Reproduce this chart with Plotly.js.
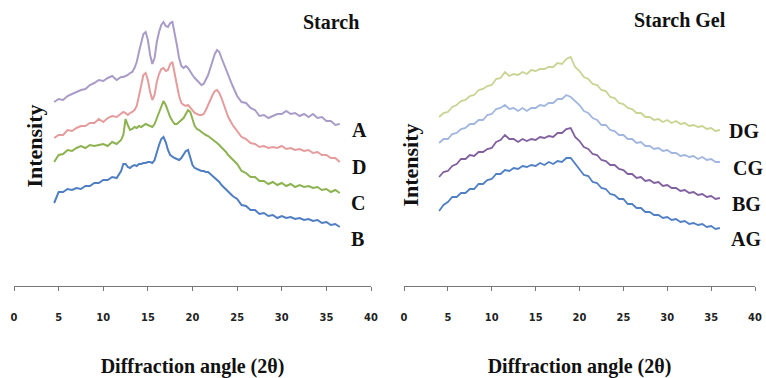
<!DOCTYPE html>
<html><head><meta charset="utf-8">
<script src="https://cdn.plot.ly/plotly-3.0.1.min.js"></script>
<style>html,body{margin:0;padding:0;background:#fff}#chart{width:766px;height:378px}</style>
</head><body><div id="chart"></div>
<script>
// ---- data (2θ in degrees, intensity in arbitrary units) ----
const angleStarch = [4.5,5,5.5,6,6.5,7,7.5,8,8.5,9,9.5,10,10.5,11,11.5,12,
12.25,12.5,12.75,13,13.25,13.5,13.75,14,14.25,14.5,14.75,15,15.25,15.5,15.75,16,16.25,16.5,16.75,17,17.25,17.5,17.75,18,18.25,18.5,18.75,19,19.25,19.5,19.75,20,20.25,20.5,20.75,21,21.25,21.5,21.75,22,22.25,22.5,22.75,23,23.25,23.5,23.75,24,
24.5,25,25.5,26,26.5,27,27.5,28,28.5,29,29.5,30,30.5,31,31.5,32,32.5,33,33.5,34,34.5,35,35.5,36,36.5];
const starchA = [184,187,186,190,192,194,196,197,201,203,206,205,208,210,206,209,
209,210,211,213,214,218,224,234,244,252,254,246,231,222,228,244,254,261,264,260,259,263,264,254,241,228,220,218,220,218,214,211,208,206,203,201,202,206,211,218,226,232,236,234,228,222,217,212,
200,190,184,183,178,176,170,171,168,170,172,172,175,172,173,170,172,169,172,168,169,165,165,161,162];
const starchD = [148,151,151,156,155,158,160,160,163,163,167,164,168,170,169,172,
174,173,171,173,174,176,180,190,201,211,213,206,194,186,191,204,212,217,218,215,216,222,224,214,201,190,183,181,180,181,178,176,173,172,171,171,172,176,182,186,191,195,196,193,188,182,175,169,
161,155,149,147,143,142,139,140,138,139,138,140,137,138,136,137,135,136,133,134,131,131,128,128,124];
const starchC = [124,131,132,136,135,138,140,138,141,140,141,142,140,144,142,146,
151,167,161,156,157,159,158,160,159,161,162,161,160,159,162,168,174,181,185,181,174,169,165,162,162,164,166,168,172,176,174,166,160,157,156,154,152,151,150,148,146,144,143,141,139,137,134,131,
126,122,115,113,109,109,105,105,102,104,101,103,100,102,99,101,99,100,98,99,96,97,94,96,93];
const starchB = [83,94,94,97,96,98,97,100,100,103,103,106,106,109,108,115,
122,122,119,118,120,121,120,122,122,123,123,124,124,123,126,134,141,147,149,144,136,131,129,128,127,126,128,131,135,136,129,121,118,117,116,115,115,114,114,112,110,109,107,104,101,99,96,94,
90,87,81,80,76,76,72,73,70,71,68,70,68,69,67,68,66,67,65,66,63,64,61,62,59];

const angleGel = [4,4.5,5,5.5,6,6.5,7,7.5,8,8.5,9,9.5,10,10.5,11,11.5,12,12.5,13,13.5,14,14.5,15,15.5,16,16.5,17,17.5,18,18.5,19,19.5,20,20.5,21,21.5,22,22.5,23,23.5,24,24.5,25,25.5,26,26.5,27,27.5,28,28.5,29,29.5,30,30.5,31,31.5,32,32.5,33,33.5,34,34.5,35,35.5,36];
const gelDG = [169,173,174,179,181,185,186,190,191,196,197,200,201,207,208,214,210,212,211,214,212,216,215,217,217,219,219,223,222,227,229,219,215,209,207,202,201,196,195,189,188,183,182,178,177,173,173,169,169,166,167,164,166,163,165,162,163,160,161,159,160,157,158,155,156];
const gelCG = [143,147,147,152,153,157,158,162,162,166,166,171,172,177,178,181,177,178,175,178,175,178,178,181,180,183,183,187,187,191,189,185,181,175,173,168,166,161,161,156,155,151,151,147,147,143,144,140,140,137,138,135,136,133,133,130,131,129,130,127,129,126,127,124,124];
const gelBG = [109,114,115,120,122,127,127,131,130,134,134,137,138,144,146,151,147,147,144,147,145,147,146,149,148,150,149,153,153,157,158,149,145,139,137,132,131,126,125,121,121,117,116,112,112,108,109,105,106,103,104,100,101,98,98,95,96,93,94,91,92,89,90,87,88];
const gelAG = [75,81,84,89,89,93,93,97,97,102,102,106,107,112,112,116,115,118,117,120,119,121,120,123,121,124,122,125,124,128,128,122,117,111,110,104,103,98,97,92,91,87,87,82,82,78,78,74,74,71,71,68,69,66,67,64,65,62,63,61,62,59,60,57,58];

const starchNames = ['A','D','C','B'];
const gelNames = ['DG','CG','BG','AG'];
const tickVals = [0,5,10,15,20,25,30,35,40];

// ---- styling ----
const starchSeries = [starchA, starchD, starchC, starchB];
const gelSeries = [gelDG, gelCG, gelBG, gelAG];
const starchColors = ['#a99cc9','#e49c9c','#8db351','#4f7fc0'];
const gelColors = ['#c9d493','#a2b7e0','#80609f','#5080c3'];
const starchLabelPos = [[38.7,156],[38.7,119],[38.5,83],[38.5,47]];
const gelLabelPos = [[38.8,155],[39.2,118],[39.0,82],[39.0,47]];

const traces = [];
starchSeries.forEach((s,i)=>traces.push({x:angleStarch,y:s,type:'scatter',mode:'lines',name:starchNames[i],
  line:{color:starchColors[i],width:2},xaxis:'x',yaxis:'y',hoverinfo:'name+x+y'}));
gelSeries.forEach((s,i)=>traces.push({x:angleGel,y:s,type:'scatter',mode:'lines',name:gelNames[i],
  line:{color:gelColors[i],width:1.8},xaxis:'x2',yaxis:'y2',hoverinfo:'name+x+y'}));

const serif = 'Liberation Serif, Times New Roman, serif';
const tickFont = {family:'Liberation Sans Narrow, DejaVu Sans Condensed, Arial Narrow, sans-serif',size:11,color:'#222',weight:'bold'};
const titleFont = {family:serif,size:20,color:'#111',weight:'bold'};

function xAx(domain){
  return {domain:domain,range:[0,40],tickvals:tickVals,ticktext:tickVals.map(String),
    showline:true,linecolor:'#777',linewidth:1,ticks:'outside',ticklen:4,tickcolor:'#777',
    showgrid:false,zeroline:false,tickfont:tickFont,ticklabelstandoff:17,automargin:false,
    title:{text:'Diffraction angle (2θ)',font:titleFont,standoff:39}};
}
function yAx(domain,range,pos){
  return {domain:domain,range:range,anchor:'free',position:pos,showline:false,showticklabels:false,ticks:'',
    showgrid:false,zeroline:false,automargin:false,
    title:{text:'Intensity',font:{family:serif,size:22,color:'#111',weight:'bold'},standoff:0}};
}

const annotations = [];
starchNames.forEach((n,i)=>annotations.push({text:n,x:starchLabelPos[i][0],y:starchLabelPos[i][1],xref:'x',yref:'y',
  showarrow:false,font:titleFont,xanchor:'center',yanchor:'middle'}));
gelNames.forEach((n,i)=>annotations.push({text:n,x:gelLabelPos[i][0],y:gelLabelPos[i][1],xref:'x2',yref:'y2',
  showarrow:false,font:titleFont,xanchor:'center',yanchor:'middle'}));
annotations.push({text:'Starch',x:331/766,y:1-22/378,xref:'paper',yref:'paper',showarrow:false,font:titleFont,xanchor:'center',yanchor:'middle'});
annotations.push({text:'Starch Gel',x:680/766,y:1-20/378,xref:'paper',yref:'paper',showarrow:false,font:titleFont,xanchor:'center',yanchor:'middle'});

const layout = {
  width:766,height:378,margin:{l:0,r:0,t:0,b:0},paper_bgcolor:'#fff',plot_bgcolor:'#fff',showlegend:false,
  xaxis:xAx([14/766,371/766]),
  xaxis2:xAx([404/766,755/766]),
  yaxis:yAx([92/378,372/378],[0,280],50/766),
  yaxis2:yAx([92/378,334/378],[0,242],426/766),
  annotations:annotations
};
layout.xaxis.anchor='y'; layout.xaxis2.anchor='y2';
Plotly.newPlot('chart',traces,layout,{displayModeBar:false,staticPlot:true});
</script></body></html>
